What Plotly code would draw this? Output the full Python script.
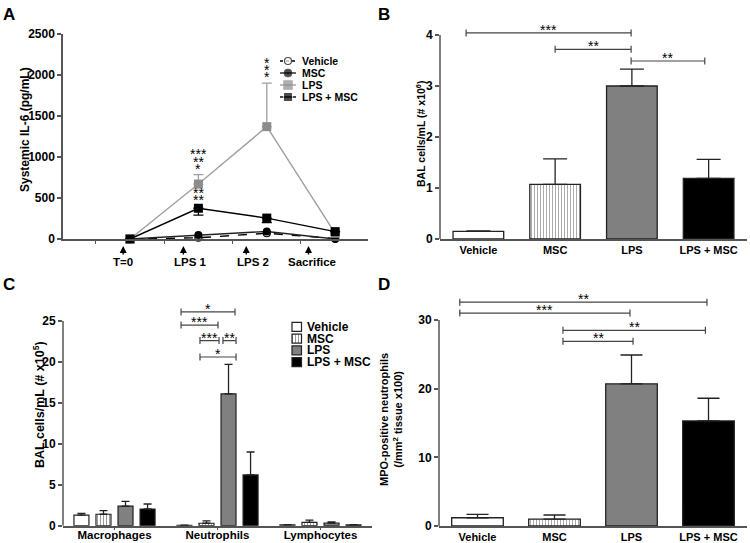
import plotly.graph_objects as go

W, H = 750, 543

# ---- panel A: systemic IL-6 over time
time_x = [0, 1, 2, 3]
time_labels = ["T=0", "LPS 1", "LPS 2", "Sacrifice"]
arrow_x = [-0.10, 0.78, 1.70, 2.61]
label_x = [-0.10, 0.89, 1.80, 2.66]
il6_vehicle = [0, 15, 70, 5]
il6_msc = [0, 50, 92, 0]
il6_lps = [0, 670, 1370, 70]
il6_lps_err = [0, 115, 530, 0]
il6_lpsmsc = [0, 375, 255, 90]
il6_lpsmsc_err = [0, 85, 55, 0]
il6_stars = [(1, 1037, "***"), (1, 939, "**"), (1, 854, "*"),
             (1, 565, "**"), (1, 476, "**"),
             (2, 2150, "*"), (2, 2061, "*"), (2, 1972, "*")]

# ---- groups shared by B, C, D
groups = ["Vehicle", "MSC", "LPS", "LPS + MSC"]
group_colors = ["white", "white", "#808080", "black"]
group_patterns = ["", "|", "", ""]

# ---- panel B: total BAL cells
bal_total = [0.15, 1.07, 3.0, 1.19]
bal_total_err = [0.01, 0.50, 0.33, 0.37]
bal_brackets = [(-0.16, 1.99, 4.04, "***"), (1.0, 1.99, 3.72, "**"), (1.99, 2.95, 3.49, "**")]

# ---- panel C: differential counts
cell_types = ["Macrophages", "Neutrophils", "Lymphocytes"]
diff_vehicle = [1.3, 0.05, 0.1]
diff_vehicle_err = [0.2, 0.02, 0.04]
diff_msc = [1.4, 0.3, 0.4]
diff_msc_err = [0.43, 0.3, 0.28]
diff_lps = [2.4, 16.1, 0.33]
diff_lps_err = [0.57, 3.6, 0.12]
diff_lpsmsc = [2.04, 6.2, 0.1]
diff_lpsmsc_err = [0.61, 2.8, 0.03]
diff_brackets = [(0.646, 1.17, 26.1, "*"), (0.646, 1.005, 24.5, "***"),
                 (0.83, 1.015, 22.6, "***"), (1.053, 1.18, 22.6, "**"),
                 (0.83, 1.18, 20.6, "*")]

# ---- panel D: MPO-positive neutrophils
mpo = [1.2, 1.0, 20.7, 15.3]
mpo_err = [0.5, 0.6, 4.2, 3.3]
mpo_brackets = [(-0.23, 2.98, 32.6, "**"), (-0.23, 1.98, 31.0, "***"),
                (1.11, 2.96, 28.5, "**"), (1.11, 2.02, 26.9, "**")]

FONT = "Liberation Sans, Arial, sans-serif"
AX = "#555555"


def px(x):
    return x / W


def py(y):
    return 1 - y / H


def xaxis(left, right, rng, **kw):
    d = dict(domain=[px(left), px(right)], range=rng, showline=True, linecolor=AX, linewidth=1.5,
             showgrid=False, zeroline=False, ticks="", fixedrange=True, automargin=False,
             tickfont=dict(family=FONT, size=11, color="black", weight="bold"))
    d.update(kw)
    return d


def yaxis(zero_px, ppu, top, tickvals, line=False, **kw):
    d = dict(domain=[py(zero_px), py(zero_px - top * ppu)], range=[0, top], showline=line,
             linecolor=AX, linewidth=1.5, showgrid=False, zeroline=False, ticks="outside",
             ticklen=4, tickwidth=1.5, tickcolor=AX, tickvals=tickvals, fixedrange=True,
             automargin=False, tickfont=dict(family=FONT, size=12, color="black", weight="bold"))
    d.update(kw)
    return d


fig = go.Figure()

# ---------- A
series_a = [
    ("Vehicle", il6_vehicle, None, "black", "dash", dict(symbol="circle", size=7, color="white", line=dict(color="black", width=1.2))),
    ("MSC", il6_msc, None, "#222222", "solid", dict(symbol="circle", size=8, color="black")),
    ("LPS", il6_lps, il6_lps_err, "#a0a0a0", "solid", dict(symbol="square", size=9, color="#8c8c8c")),
    ("LPS + MSC", il6_lpsmsc, il6_lpsmsc_err, "black", "solid", dict(symbol="square", size=9, color="black")),
]
for name, vals, err, col, dash, mk in series_a:
    ey = None
    if err is not None:
        if name == "LPS":
            ey = dict(type="data", symmetric=False, array=err, arrayminus=[0] * 4, color=col, thickness=1.3, width=5)
        else:
            ey = dict(type="data", symmetric=False, array=[0] * 4, arrayminus=err, color=col, thickness=1.3, width=5)
    fig.add_trace(go.Scatter(x=time_x, y=vals, mode="lines+markers", name=name,
                             line=dict(color=col, width=1.4, dash=dash), marker=mk,
                             error_y=ey, cliponaxis=False, xaxis="x", yaxis="y"))

# legend for A (small hidden subplot)
for i, (name, vals, err, col, dash, mk) in enumerate(series_a):
    mk2 = dict(mk)
    mk2["size"] = [0, mk["size"], 0]
    fig.add_trace(go.Scatter(x=[2, 10, 18], y=[i, i, i], mode="lines+markers",
                             line=dict(color=col, width=1.4, dash="dot" if dash == "dash" else "solid"),
                             marker=mk2, xaxis="x5", yaxis="y5", cliponaxis=False))

# ---------- B
fig.add_trace(go.Bar(x=[0, 1, 2, 3], y=bal_total, width=0.66,
                     marker=dict(color=group_colors, line=dict(color="#222222", width=1.3),
                                 pattern=dict(shape=group_patterns, fgcolor="#222222", size=3, solidity=0.3)),
                     error_y=dict(type="data", symmetric=False, array=bal_total_err, arrayminus=[0] * 4,
                                  color="#222222", thickness=1.3, width=12),
                     xaxis="x2", yaxis="y2"))

# ---------- C
diff_series = [(diff_vehicle, diff_vehicle_err), (diff_msc, diff_msc_err),
               (diff_lps, diff_lps_err), (diff_lpsmsc, diff_lpsmsc_err)]
for i, (vals, err) in enumerate(diff_series):
    fig.add_trace(go.Bar(x=[0, 1, 2], y=vals, name=groups[i],
                         marker=dict(color=group_colors[i], line=dict(color="#222222", width=1.2),
                                     pattern=dict(shape=group_patterns[i], fgcolor="#222222", size=3, solidity=0.3)),
                         error_y=dict(type="data", symmetric=False, array=err, arrayminus=[0] * 3,
                                      color="#222222", thickness=1.3, width=4),
                         xaxis="x3", yaxis="y3"))

# legend for C (swatches in a hidden subplot)
for i in range(4):
    fig.add_trace(go.Bar(y=[i], x=[9.5], base=[4], orientation="h", width=0.75, offset=-0.375,
                         marker=dict(color=group_colors[i], line=dict(color="#222222", width=1.2),
                                     pattern=dict(shape=group_patterns[i], fgcolor="#222222", size=3, solidity=0.3)),
                         xaxis="x6", yaxis="y6"))

# ---------- D
fig.add_trace(go.Bar(x=[0, 1, 2, 3], y=mpo, width=0.67,
                     marker=dict(color=group_colors, line=dict(color="#222222", width=1.3),
                                 pattern=dict(shape=group_patterns, fgcolor="#222222", size=3, solidity=0.3)),
                     error_y=dict(type="data", symmetric=False, array=mpo_err, arrayminus=[0] * 4,
                                  color="#222222", thickness=1.3, width=11),
                     xaxis="x4", yaxis="y4"))

# ---------- annotations & shapes
ann = []
shapes = []


def txt(x, y, text, size, **kw):
    d = dict(x=x, y=y, text=text, showarrow=False, xref="paper", yref="paper",
             xanchor="center", yanchor="middle",
             font=dict(family=FONT, size=size, color="black", weight="bold"))
    d.update(kw)
    ann.append(d)


# panel letters
txt(px(1), py(3), "A", 17, xanchor="left", yanchor="top")
txt(px(376), py(3), "B", 17, xanchor="left", yanchor="top")
txt(px(1), py(273), "C", 17, xanchor="left", yanchor="top")
txt(px(376), py(273), "D", 17, xanchor="left", yanchor="top")

# axis titles
txt(px(25), py(130), "Systemic IL-6 (pg/mL)", 12, textangle=-90)
txt(px(420), py(134), "BAL cells/mL (# x10<sup>6</sup>)", 10.5, textangle=-90)
txt(px(39), py(405), "BAL cells/mL (# x10<sup>5</sup>)", 12.5, textangle=-90)
txt(px(391), py(420), "MPO-positive neutrophils<br>(/mm<sup>2</sup> tissue x100)", 11, textangle=-90)

# A: time labels with arrows
for xa, xl, lab in zip(arrow_x, label_x, time_labels):
    ann.append(dict(x=xa, y=py(246), xref="x", yref="paper", text="", showarrow=True,
                    ax=0, ay=10, arrowhead=2, arrowsize=1, arrowwidth=1.4, arrowcolor="black"))
    ann.append(dict(x=xl, y=py(262), xref="x", yref="paper", text=lab, showarrow=False,
                    xanchor="center", yanchor="middle",
                    font=dict(family=FONT, size=11.5, color="black", weight="bold")))

# A: significance stars
for ti, yv, s in il6_stars:
    ann.append(dict(x=time_x[ti], y=yv, xref="x", yref="y", text=s, showarrow=False,
                    xanchor="center", yanchor="middle",
                    font=dict(family=FONT, size=14, color="black")))

# A legend labels
for i, (name, *_rest) in enumerate(series_a):
    ann.append(dict(x=22, y=i, xref="x5", yref="y5", text=name, showarrow=False,
                    xanchor="left", yanchor="middle",
                    font=dict(family=FONT, size=10.5, color="black", weight="bold")))

# C legend labels
for i, g in enumerate(groups):
    ann.append(dict(x=17, y=i, xref="x6", yref="y6", text=g, showarrow=False,
                    xanchor="left", yanchor="middle",
                    font=dict(family=FONT, size=12, color="black", weight="bold")))


def brackets(items, xr, yr, cap):
    for x0, x1, yv, s in items:
        for seg in [(x0, yv, x1, yv), (x0, yv - cap, x0, yv + cap), (x1, yv - cap, x1, yv + cap)]:
            shapes.append(dict(type="line", xref=xr, yref=yr, x0=seg[0], y0=seg[1], x1=seg[2], y1=seg[3],
                               line=dict(color="#444444", width=1.2)))
        ann.append(dict(x=(x0 + x1) / 2, y=yv, xref=xr, yref=yr, text=s, showarrow=False,
                        xanchor="center", yanchor="bottom", yshift=-7,
                        font=dict(family=FONT, size=14, color="black")))


brackets(bal_brackets, "x2", "y2", 3.5 / 51)
brackets(diff_brackets, "x3", "y3", 3.5 / 8.19)
brackets(mpo_brackets, "x4", "y4", 3.5 / 6.867)

# manual y axis lines for the bar panels (axes extended above for brackets)
for xr, yr, top in [("x2", "y2", 4), ("x3", "y3", 25), ("x4", "y4", 30)]:
    shapes.append(dict(type="line", xref=xr + " domain", yref=yr, x0=0, x1=0, y0=0, y1=top,
                       line=dict(color=AX, width=1.5)))

fig.update_layout(
    width=W, height=H, margin=dict(l=0, r=0, t=0, b=0, autoexpand=False),
    paper_bgcolor="white", plot_bgcolor="rgba(0,0,0,0)", showlegend=False,
    barmode="group", bargap=0.144, bargroupgap=0.32,
    xaxis=xaxis(63, 368, [-0.98, 3.48], ticks="outside", ticklen=3, tickwidth=1, tickcolor=AX,
                tickvals=[-0.5, 0.5, 1.5, 2.5], showticklabels=False),
    yaxis=yaxis(239, 0.082, 2500, [0, 500, 1000, 1500, 2000, 2500], line=True, anchor="x"),
    xaxis2=xaxis(440, 747, [-0.5, 3.5], tickvals=[0, 1, 2, 3], ticktext=groups, anchor="y2"),
    yaxis2=yaxis(239, 51, 4.35, [0, 1, 2, 3, 4], anchor="x2"),
    xaxis3=xaxis(63, 372, [-0.5, 2.5], tickvals=[0, 1, 2], ticktext=cell_types, anchor="y3",
                 ticks="outside", ticklen=3, tickcolor=AX, ticklabelstandoff=-5,
                 tickfont=dict(family=FONT, size=11.5, color="black", weight="bold")),
    yaxis3=yaxis(525.7, 8.19, 27.6, [0, 5, 10, 15, 20, 25], anchor="x3"),
    xaxis4=xaxis(439, 747, [-0.5, 3.5], tickvals=[0, 1, 2, 3], ticktext=groups, anchor="y4"),
    yaxis4=yaxis(526, 6.867, 34, [0, 10, 20, 30], anchor="x4"),
    xaxis5=dict(domain=[px(278), px(375)], range=[0, 97], visible=False, anchor="y5", fixedrange=True),
    yaxis5=dict(domain=[py(103), py(55)], range=[3.5, -0.5], visible=False, anchor="x5", fixedrange=True),
    xaxis6=dict(domain=[px(288), px(375)], range=[0, 87], visible=False, anchor="y6", fixedrange=True),
    yaxis6=dict(domain=[py(368), py(321)], range=[3.5, -0.5], visible=False, anchor="x6", fixedrange=True),
    annotations=ann, shapes=shapes,
)

fig.write_html("out.html", config={"displayModeBar": False},
               post_script="document.body.style.margin='0';document.body.style.overflow='hidden';")
